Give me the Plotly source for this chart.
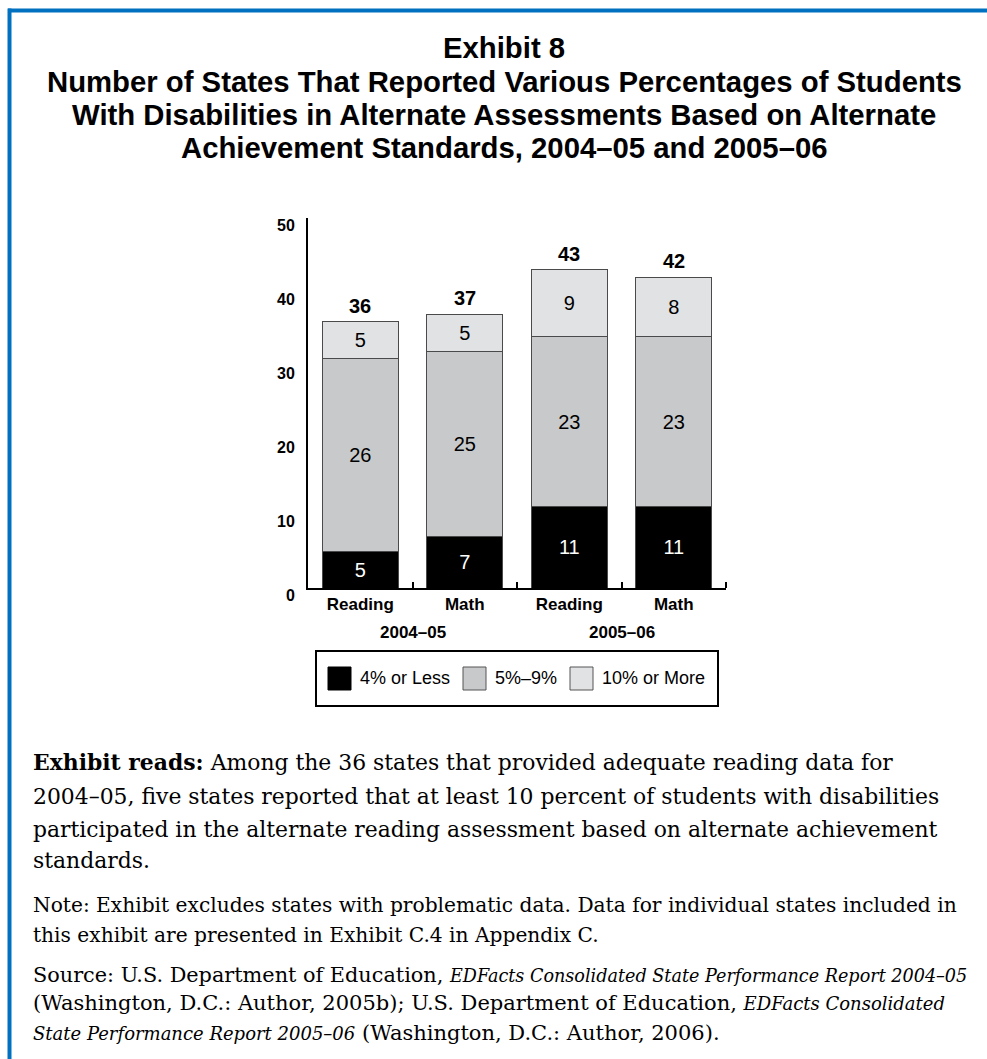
import plotly.graph_objects as go

# ---- data ----
bar_labels = ["Reading", "Math", "Reading", "Math"]
year_labels = ["2004–05", "2005–06"]
series_names = ["4% or Less", "5%–9%", "10% or More"]
low_share = [5, 7, 11, 11]        # 4% or less
mid_share = [26, 25, 23, 23]      # 5%–9%
high_share = [5, 5, 9, 8]         # 10% or more
y_ticks = [0, 10, 20, 30, 40, 50]

series_values = [low_share, mid_share, high_share]
series_colors = ["#000000", "#c8c9cb", "#e1e2e4"]
text_colors = ["#ffffff", "#000000", "#000000"]
totals = [sum(v) for v in zip(*series_values)]
xs = list(range(len(bar_labels)))

W, H = 987, 1059
L, R, T, B = 308, 726, 218, 588   # plot-area edges in pixels


def px_x(px):
    return (px - L) / (R - L)


def px_y(py):
    return (B - py) / (B - T)


SANS = "Liberation Sans, Arial, sans-serif"
SERIF = "DejaVu Serif, serif"

fig = go.Figure()
for name, vals, col, tcol in zip(series_names, series_values, series_colors, text_colors):
    fig.add_trace(go.Bar(
        x=xs, y=vals, name=name, width=0.73,
        marker=dict(color=col, line=dict(color="#4a4a4a", width=1)),
        text=[str(v) for v in vals], textposition="inside",
        insidetextanchor="middle", constraintext="none",
        textfont=dict(family=SANS, size=20, color=tcol),
        hoverinfo="skip", showlegend=False,
    ))

# totals above each bar
for x, tot in zip(xs, totals):
    fig.add_annotation(x=x, y=tot, xref="x", yref="y", text=f"<b>{tot}</b>",
                       showarrow=False, yanchor="bottom", yshift=3,
                       font=dict(family=SANS, size=20, color="#000"))

# school-year group labels
for i, yr in enumerate(year_labels):
    fig.add_annotation(x=2 * i + 0.5, y=px_y(632), xref="x", yref="paper",
                       text=f"<b>{yr}</b>", showarrow=False, yanchor="middle",
                       font=dict(family=SANS, size=17, color="#000"))

# legend box with swatches
fig.add_shape(type="rect", xref="paper", yref="paper",
              x0=px_x(316), x1=px_x(718), y0=px_y(651), y1=px_y(706),
              line=dict(color="#000", width=2), fillcolor="white")
swatch_left = [328, 463, 570]
for name, col, sx in zip(series_names, series_colors, swatch_left):
    fig.add_shape(type="rect", xref="paper", yref="paper",
                  x0=px_x(sx), x1=px_x(sx + 23), y0=px_y(667), y1=px_y(690),
                  line=dict(color="#555555" if col != "#000000" else "#000", width=1),
                  fillcolor=col)
    fig.add_annotation(x=px_x(sx + 30), y=px_y(678), xref="paper", yref="paper",
                       text=name, showarrow=False, xanchor="left", yanchor="middle",
                       font=dict(family=SANS, size=18, color="#000"))

# title
title_lines = [
    "Exhibit 8",
    "Number of States That Reported Various Percentages of Students",
    "With Disabilities in Alternate Assessments Based on Alternate",
    "Achievement Standards, 2004–05 and 2005–06",
]
for line, yc in zip(title_lines, [47, 81, 115, 148]):
    fig.add_annotation(x=px_x(504), y=px_y(yc), xref="paper", yref="paper",
                       text=f"<b>{line}</b>", showarrow=False,
                       xanchor="center", yanchor="middle",
                       font=dict(family=SANS, size=29.3, color="#000"))


def ital(s, size=18):
    return f'<i><span style="font-size:{size}px">{s}</span></i>'


# notes below the chart
notes = [
    ("<b>Exhibit reads:</b> Among the 36 states that provided adequate reading data for", 762, 21.9),
    ("2004–05, five states reported that at least 10 percent of students with disabilities", 796, 21.9),
    ("participated in the alternate reading assessment based on alternate achievement", 829, 21.9),
    ("standards.", 860, 21.9),
    ("Note: Exhibit excludes states with problematic data. Data for individual states included in", 905, 20.2),
    ("this exhibit are presented in Exhibit C.4 in Appendix C.", 935, 20.2),
    ("Source: U.S. Department of Education, " + ital("EDFacts Consolidated State Performance Report 2004–05", 17.6), 975, 20.8),
    ("(Washington, D.C.: Author, 2005b); U.S. Department of Education, " + ital("EDFacts Consolidated"), 1003, 21),
    (ital("State Performance Report 2005–06") + " (Washington, D.C.: Author, 2006).", 1033, 21),
]
for txt, yc, fs in notes:
    fig.add_annotation(x=px_x(31), y=px_y(yc), xref="paper", yref="paper",
                       text=txt, showarrow=False, xanchor="left", yanchor="middle",
                       font=dict(family=SERIF, size=fs, color="#000"))

# blue frame on the top and left edges
blue = "#0070c0"
fig.add_shape(type="line", xref="paper", yref="paper",
              x0=px_x(8), x1=px_x(W + 5), y0=px_y(10.5), y1=px_y(10.5),
              line=dict(color=blue, width=4))
fig.add_shape(type="line", xref="paper", yref="paper",
              x0=px_x(9.5), x1=px_x(9.5), y0=px_y(8.5), y1=px_y(H + 5),
              line=dict(color=blue, width=4))

fig.update_layout(
    width=W, height=H,
    margin=dict(l=L, r=W - R, t=T, b=H - B, autoexpand=False),
    paper_bgcolor="white", plot_bgcolor="white",
    barmode="stack", bargap=0.27,
    showlegend=False,
    xaxis=dict(range=[-0.5, len(xs) - 0.5], tickvals=xs, ticktext=[f"<b>{b}</b>" for b in bar_labels],
               ticks="", showgrid=False, zeroline=False,
               showline=True, linecolor="#000", linewidth=2,
               tickfont=dict(family=SANS, size=17, color="#000"),
               ticklabelstandoff=0,
               minor=dict(tickvals=[x + 0.5 for x in xs], ticks="inside",
                          ticklen=6, tickwidth=2, tickcolor="#000", showgrid=False)),
    yaxis=dict(range=[0, 50], tickvals=y_ticks, ticktext=[f"<b>{t}</b>" for t in y_ticks],
               ticks="", showgrid=False, zeroline=False,
               showline=True, linecolor="#000", linewidth=2,
               tickfont=dict(family=SANS, size=16, color="#000"),
               ticklabelstandoff=8, ticklabelshift=7),
)

fig.write_html("out.html")
